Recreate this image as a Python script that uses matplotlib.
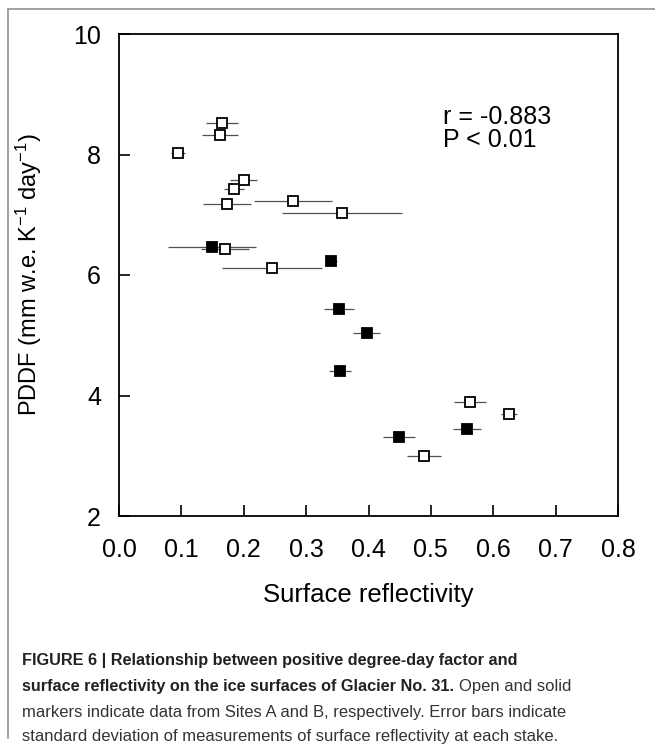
import matplotlib.pyplot as plt
from matplotlib.lines import Line2D

plt.rcParams['font.family'] = ['Liberation Sans', 'DejaVu Sans']
plt.rcParams['mathtext.fontset'] = 'custom'
plt.rcParams['mathtext.rm'] = 'Liberation Sans'
plt.rcParams['mathtext.it'] = 'Liberation Sans:italic'

# Site A (open markers)
a_x = [0.165, 0.162, 0.095, 0.200, 0.184, 0.173, 0.279, 0.357, 0.170, 0.245, 0.5625, 0.625, 0.489]
a_y = [8.52, 8.32, 8.02, 7.58, 7.43, 7.18, 7.23, 7.03, 6.43, 6.12, 3.89, 3.69, 3.00]
a_err = [0.026, 0.029, 0.011, 0.022, 0.016, 0.039, 0.063, 0.096, 0.039, 0.080, 0.026, 0.013, 0.028]

# Site B (solid markers)
b_x = [0.149, 0.340, 0.353, 0.397, 0.354, 0.558, 0.449]
b_y = [6.46, 6.23, 5.44, 5.04, 4.41, 3.44, 3.31]
b_err = [0.071, 0.009, 0.024, 0.022, 0.018, 0.022, 0.026]

x_ticks = [0.0, 0.1, 0.2, 0.3, 0.4, 0.5, 0.6, 0.7, 0.8]
y_ticks = [2, 4, 6, 8, 10]

fig = plt.figure(figsize=(6.55, 7.44), dpi=100)
ax = fig.add_axes([119 / 655, 1 - 516 / 744, 499 / 655, 482 / 744])

err_style = dict(fmt='none', ecolor='#505050', elinewidth=0.9, capsize=0, zorder=2)
ax.errorbar(a_x, a_y, xerr=a_err, **err_style)
ax.errorbar(b_x, b_y, xerr=b_err, **err_style)
ax.plot(a_x, a_y, 's', ms=7.5, mfc='white', mec='black', mew=1.3, zorder=3)
ax.plot(b_x, b_y, 's', ms=7.5, mfc='black', mec='black', mew=1.3, zorder=3)

ax.set_xlim(0, 0.8)
ax.set_ylim(2, 10)
ax.set_xticks(x_ticks)
ax.set_xticklabels([f'{t:.1f}' for t in x_ticks])
ax.set_yticks(y_ticks)
ax.tick_params(direction='in', length=8, width=1.2, labelsize=18)
ax.tick_params(axis='x', pad=16)
ax.tick_params(axis='y', pad=13)
for s in ax.spines.values():
    s.set_linewidth(1.3)

ax.set_xlabel('Surface reflectivity', fontsize=18.5)
ax.set_ylabel('PDDF (mm w.e. K$^{-1}$ day$^{-1}$)', fontsize=17)
ax.xaxis.set_label_coords(0.5, -0.14)
ax.yaxis.set_label_coords(-0.15, 0.5)

ax.text(0.519, 8.62, 'r = -0.883', fontsize=18, va='center', ha='left')
ax.text(0.519, 8.24, 'P < 0.01', fontsize=18, va='center', ha='left')

# outer frame (top and left)
fig.add_artist(Line2D([8 / 655, 8 / 655], [1 - 9 / 744, 1 - 738 / 744], color='#9a9a9a', lw=1.3))
fig.add_artist(Line2D([8 / 655, 1], [1 - 9 / 744, 1 - 9 / 744], color='#9a9a9a', lw=1.3))

# caption
cap_x = 22 / 655
bold_size = 11.7
reg_size = 12
line_ys = [660, 686, 712, 737]
fig.text(cap_x, 1 - line_ys[0] / 744, 'FIGURE 6 | Relationship between positive degree-day factor and',
         fontsize=bold_size, fontweight='bold', color='#222222', va='center')
t2 = fig.text(cap_x, 1 - line_ys[1] / 744, 'surface reflectivity on the ice surfaces of Glacier No. 31.',
              fontsize=bold_size, fontweight='bold', color='#222222', va='center')
fig.canvas.draw()
bb = t2.get_window_extent()
fig.text(bb.x1 / fig.bbox.width + 5 / 655, 1 - line_ys[1] / 744, 'Open and solid',
         fontsize=reg_size, color='#333333', va='center')
fig.text(cap_x, 1 - line_ys[2] / 744, 'markers indicate data from Sites A and B, respectively. Error bars indicate',
         fontsize=reg_size, color='#333333', va='center')
fig.text(cap_x, 1 - line_ys[3] / 744, 'standard deviation of measurements of surface reflectivity at each stake.',
         fontsize=reg_size, color='#333333', va='center')

fig.savefig('out.png', dpi=100)
